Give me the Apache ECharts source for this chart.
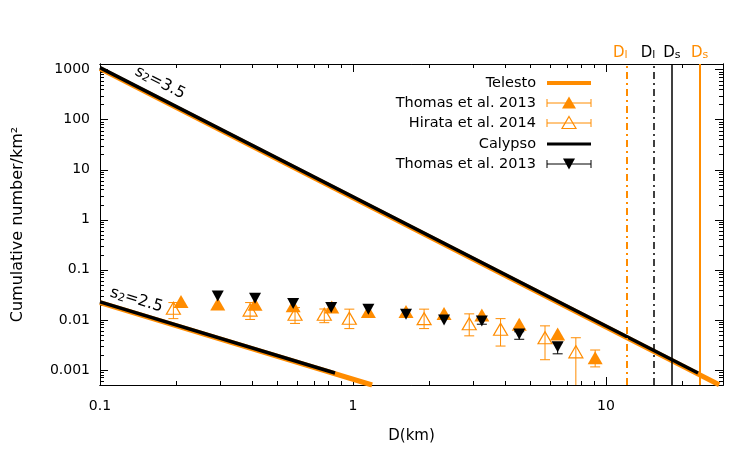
<!DOCTYPE html>
<html>
<head>
<meta charset="utf-8">
<script src="https://cdn.jsdelivr.net/npm/echarts@6/dist/echarts.min.js"></script>
<style>
  html, body { margin: 0; padding: 0; background: #fff; }
  #chart { width: 750px; height: 450px; }
</style>
</head>
<body>
<div id="chart"></div>
<script>
// power-law fits, end points [D km, N/km2]
const fitSteepD = [0.1, 23.1];
const fitSteepN = [1100, 8.7e-4];
const fitSteepTelestoD = [0.1, 28];
const fitSteepTelestoN = [1050, 5.07e-4];
const fitFlatD = [0.1, 0.849];
const fitFlatN = [0.0229, 8.7e-4];
const fitFlatTelestoD = [0.1, 1.19];
const fitFlatTelestoN = [0.0221, 5.0e-4];

// Telesto, Thomas et al. 2013
const telThomasD = [0.209, 0.292, 0.41, 0.58, 0.824, 1.15, 1.62, 2.29, 3.23, 4.54, 6.44, 9.06];
const telThomasN = [0.0232, 0.0209, 0.0206, 0.0191, 0.0182, 0.0147, 0.0147, 0.0134, 0.0126, 0.0082, 0.0052, 0.00176];
const telThomasLo = [null, null, null, null, null, null, null, null, null, null, null, 0.00115];
const telThomasHi = [null, null, null, null, null, null, null, null, null, null, null, 0.0025];

// Telesto, Hirata et al. 2014
const telHirataD = [0.195, 0.392, 0.59, 0.77, 0.967, 1.91, 2.88, 3.83, 5.74, 7.6];
const telHirataN = [0.0171, 0.0157, 0.0130, 0.0130, 0.0108, 0.0106, 0.0084, 0.0065, 0.0044, 0.0023];
const telHirataLo = [0.0106, 0.0102, 0.0085, 0.0088, 0.0067, 0.0067, 0.0048, 0.0030, 0.0016, 0.0001];
const telHirataHi = [0.0222, 0.0222, 0.0176, 0.0165, 0.0164, 0.0164, 0.0132, 0.0106, 0.0076, 0.0044];

// Calypso, Thomas et al. 2013
const calThomasD = [0.292, 0.41, 0.58, 0.82, 1.15, 1.62, 2.29, 3.23, 4.54, 6.44];
const calThomasN = [0.0302, 0.0272, 0.0212, 0.0176, 0.0164, 0.0130, 0.0099, 0.0095, 0.0052, 0.0029];
const calThomasLo = [null, null, null, null, null, null, null, 0.0082, 0.0041, 0.0021];
const calThomasHi = [null, null, null, null, null, null, null, 0.0108, 0.0058, 0.0035];

// characteristic diameters (vertical lines)
const telestoDl = 12.0, telestoDs = 23.3;
const calypsoDl = 15.4, calypsoDs = 18.1;

// axes
const xRange = [0.1, 29];
const yRange = [5e-4, 1300];
const xMajor = [0.1, 1, 10];
const xMajorLabels = ['0.1', '1', '10'];
const yMajor = [0.001, 0.01, 0.1, 1, 10, 100, 1000];
const yMajorLabels = ['0.001', '0.01', '0.1', '1', '10', '100', '1000'];

const ORANGE = '#ff8c00';
const FONT = 'DejaVu Sans';
const L = Math.log10;

function minorTicks(range) {
  const out = [];
  for (let e = -4; e <= 3; e++) {
    for (let m = 2; m <= 9; m++) {
      const v = m * Math.pow(10, e);
      if (v > range[0] && v < range[1]) out.push(v);
    }
  }
  return out;
}
const xMinor = minorTicks(xRange);
const yMinor = minorTicks(yRange);

function pairs(xs, ys) {
  return xs.map((x, i) => [L(x), L(ys[i])]);
}
function errData(xs, lo, hi) {
  const out = [];
  xs.forEach((x, i) => {
    if (lo[i] != null) out.push([L(x), L(lo[i]), L(hi[i])]);
  });
  return out;
}
function labelFor(ticks, labels) {
  return function (v) {
    const i = ticks.findIndex(t => Math.abs(L(t) - v) < 1e-6);
    return i >= 0 ? labels[i] : '';
  };
}

function axis(dir, pos, range, ticks, len, labels) {
  const a = {
    type: 'value',
    position: pos,
    min: L(range[0]),
    max: L(range[1]),
    axisLine: { show: true, onZero: false, lineStyle: { color: '#000', width: 1 } },
    axisTick: { show: true, inside: true, length: len, customValues: ticks.map(L), lineStyle: { color: '#000', width: 1 } },
    axisLabel: { show: false },
    splitLine: { show: false }
  };
  if (labels) {
    a.axisLabel = {
      show: true,
      customValues: ticks.map(L),
      formatter: labelFor(ticks, labels),
      margin: dir === 'x' ? 14 : 10,
      color: '#000',
      fontFamily: FONT,
      fontSize: 14
    };
  }
  return a;
}

function errRender(color) {
  return function (params, api) {
    const x = api.value(0);
    const p1 = api.coord([x, api.value(1)]);
    const p2 = api.coord([x, api.value(2)]);
    const w = 5;
    const style = { stroke: color, lineWidth: 1 };
    return {
      type: 'group',
      children: [
        { type: 'line', shape: { x1: p1[0], y1: p1[1], x2: p2[0], y2: p2[1] }, style },
        { type: 'line', shape: { x1: p1[0] - w, y1: p1[1], x2: p1[0] + w, y2: p1[1] }, style },
        { type: 'line', shape: { x1: p2[0] - w, y1: p2[1], x2: p2[0] + w, y2: p2[1] }, style }
      ]
    };
  };
}

function fitLine(name, data, color, width) {
  return {
    name, type: 'line', data, showSymbol: false, symbol: 'none', clip: true,
    lineStyle: { color, width }, itemStyle: { color }, silent: true
  };
}

function vLine(x, sub, color, type, width, padRight) {
  return {
    xAxis: L(x),
    lineStyle: { color, type, width },
    label: {
      show: true, position: 'end', formatter: '{D|D}{s|' + sub + '}', color,
      distance: 3, padding: [0, padRight, 0, 0],
      rich: {
        D: { color, fontFamily: FONT, fontSize: 15, verticalAlign: 'bottom', lineHeight: 20 },
        s: { color, fontFamily: FONT, fontSize: 11, verticalAlign: 'bottom', lineHeight: 14 }
      }
    }
  };
}

const chart = echarts.init(document.getElementById('chart'));

const legendRows = [
  { y: 83, text: 'Telesto' },
  { y: 103, text: 'Thomas et al. 2013' },
  { y: 123, text: 'Hirata et al. 2014' },
  { y: 144, text: 'Calypso' },
  { y: 164, text: 'Thomas et al. 2013' }
];
const lx1 = 547, lx2 = 591, lxm = 569;
function errKey(y, color) {
  return [
    { type: 'line', shape: { x1: lx1, y1: y, x2: lx2, y2: y }, style: { stroke: color, lineWidth: 1 } },
    { type: 'line', shape: { x1: lx1, y1: y - 4, x2: lx1, y2: y + 4 }, style: { stroke: color, lineWidth: 1 } },
    { type: 'line', shape: { x1: lx2, y1: y - 4, x2: lx2, y2: y + 4 }, style: { stroke: color, lineWidth: 1 } }
  ];
}
const legendGraphics = [];
legendRows.forEach(r => {
  legendGraphics.push({
    type: 'text', x: 536, y: r.y,
    style: { text: r.text, fill: '#000', font: '14.5px "DejaVu Sans"', textAlign: 'right', textVerticalAlign: 'middle', align: 'right', verticalAlign: 'middle' }
  });
});
legendGraphics.push({ type: 'line', shape: { x1: lx1, y1: 83, x2: lx2, y2: 83 }, style: { stroke: ORANGE, lineWidth: 4 } });
legendGraphics.push(...errKey(103, ORANGE));
legendGraphics.push({ type: 'polygon', shape: { points: [[lxm, 96.5], [lxm + 7, 108.5], [lxm - 7, 108.5]] }, style: { fill: ORANGE } });
legendGraphics.push(...errKey(123, ORANGE));
legendGraphics.push({ type: 'polygon', shape: { points: [[lxm, 116.5], [lxm + 7, 128.5], [lxm - 7, 128.5]] }, style: { fill: 'none', stroke: ORANGE, lineWidth: 1.2 } });
legendGraphics.push({ type: 'line', shape: { x1: lx1, y1: 144, x2: lx2, y2: 144 }, style: { stroke: '#000', lineWidth: 3 } });
legendGraphics.push(...errKey(164, '#000'));
legendGraphics.push({ type: 'polygon', shape: { points: [[lxm - 6, 158.5], [lxm + 6, 158.5], [lxm, 169.5]] }, style: { fill: '#000' } });

function slopeLabel(x, y, rot, value) {
  return {
    type: 'text', x, y, rotation: rot,
    style: {
      text: '{a|s}{b|2}{a|=' + value + '}',
      textAlign: 'center', textVerticalAlign: 'middle', align: 'center', verticalAlign: 'middle',
      rich: {
        a: { fill: '#000', fontFamily: FONT, fontSize: 16, lineHeight: 20, verticalAlign: 'bottom' },
        b: { fill: '#000', fontFamily: FONT, fontSize: 11, lineHeight: 13, verticalAlign: 'bottom' }
      }
    }
  };
}

const option = {
  animation: false,
  backgroundColor: '#fff',
  grid: { left: 100, right: 27, top: 64, bottom: 65, containLabel: false, outerBoundsMode: 'none' },
  xAxis: [
    Object.assign(axis('x', 'bottom', xRange, xMajor, 8, xMajorLabels), {
      name: 'D(km)', nameLocation: 'middle', nameGap: 44,
      nameTextStyle: { fontFamily: FONT, fontSize: 15, color: '#000' }
    }),
    axis('x', 'bottom', xRange, xMinor, 4, null),
    axis('x', 'top', xRange, xMajor, 8, null),
    axis('x', 'top', xRange, xMinor, 4, null)
  ],
  yAxis: [
    Object.assign(axis('y', 'left', yRange, yMajor, 8, yMajorLabels), {
      name: 'Cumulative number/km²', nameLocation: 'middle', nameGap: 74,
      nameTextStyle: { fontFamily: FONT, fontSize: 16, color: '#000' }
    }),
    axis('y', 'left', yRange, yMinor, 4, null),
    axis('y', 'right', yRange, yMajor, 8, null),
    axis('y', 'right', yRange, yMinor, 4, null)
  ],
  series: [
    Object.assign(fitLine('Telesto', pairs(fitSteepTelestoD, fitSteepTelestoN), ORANGE, 5), {
      markLine: {
        silent: true, symbol: 'none', animation: false,
        data: [
          vLine(telestoDl, 'l', ORANGE, [7, 4, 2, 4], 2, 12),
          vLine(telestoDs, 's', ORANGE, 'solid', 2, 0)
        ]
      }
    }),
    fitLine('Telesto', pairs(fitFlatTelestoD, fitFlatTelestoN), ORANGE, 5),
    {
      type: 'custom', name: 'Thomas et al. 2013', clip: true, silent: true,
      renderItem: errRender(ORANGE), data: errData(telThomasD, telThomasLo, telThomasHi)
    },
    {
      type: 'scatter', name: 'Thomas et al. 2013', data: pairs(telThomasD, telThomasN),
      symbol: 'triangle', symbolSize: [15, 13], itemStyle: { color: ORANGE, opacity: 1 }, silent: true
    },
    {
      type: 'custom', name: 'Hirata et al. 2014', clip: true, silent: true,
      renderItem: errRender(ORANGE), data: errData(telHirataD, telHirataLo, telHirataHi)
    },
    {
      type: 'scatter', name: 'Hirata et al. 2014', data: pairs(telHirataD, telHirataN),
      symbol: 'triangle', symbolSize: [14, 12],
      itemStyle: { color: 'rgba(0,0,0,0)', borderColor: ORANGE, borderWidth: 1.2, opacity: 1 }, silent: true
    },
    Object.assign(fitLine('Calypso', pairs(fitSteepD, fitSteepN), '#000', 3.5), {
      markLine: {
        silent: true, symbol: 'none', animation: false,
        data: [
          vLine(calypsoDl, 'l', '#000', [7, 4, 2, 4], 1.5, 12),
          vLine(calypsoDs, 's', '#000', 'solid', 1.5, 0)
        ]
      }
    }),
    fitLine('Calypso', pairs(fitFlatD, fitFlatN), '#000', 3.5),
    {
      type: 'custom', name: 'Thomas et al. 2013 (Calypso)', clip: true, silent: true,
      renderItem: errRender('#000'), data: errData(calThomasD, calThomasLo, calThomasHi)
    },
    {
      type: 'scatter', name: 'Thomas et al. 2013 (Calypso)', data: pairs(calThomasD, calThomasN),
      symbol: 'triangle', symbolRotate: 180, symbolSize: [12, 11], itemStyle: { color: '#000', opacity: 1 }, silent: true
    }
  ],
  graphic: legendGraphics.concat([
    slopeLabel(161, 81, -0.47, '3.5'),
    slopeLabel(137, 298, -0.29, '2.5')
  ])
};

chart.setOption(option);
</script>
</body>
</html>
